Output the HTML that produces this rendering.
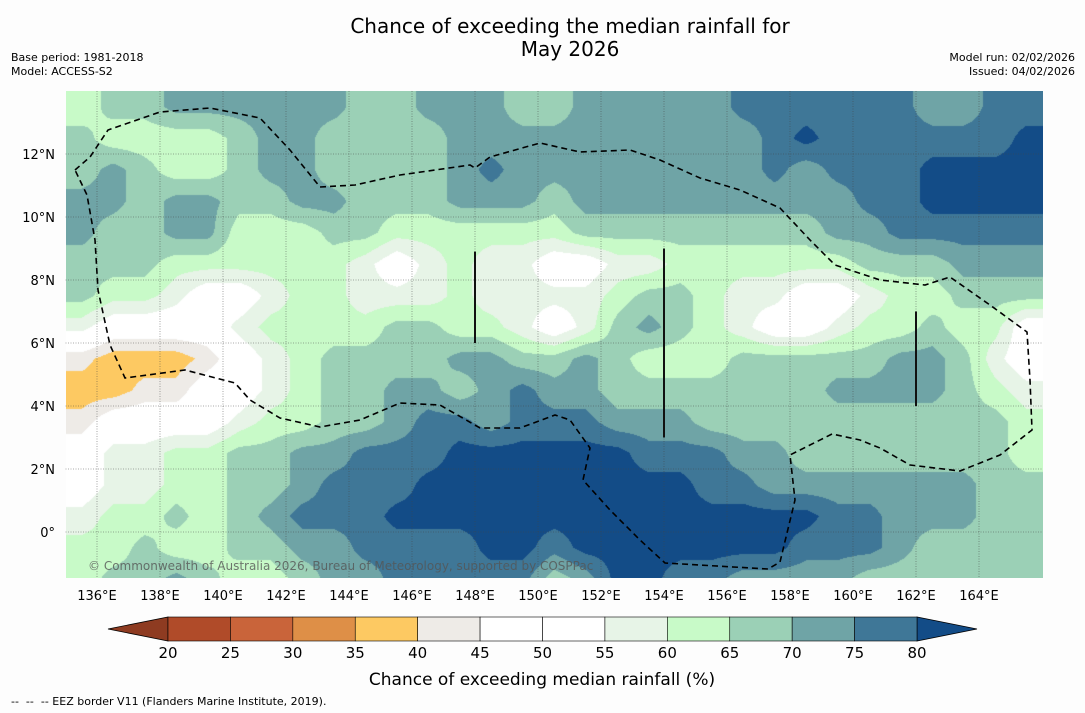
<!DOCTYPE html>
<html><head><meta charset="utf-8">
<style>
body{margin:0;background:#fdfdfd;font-family:"DejaVu Sans","Liberation Sans",sans-serif;}
#wrap{position:relative;width:1085px;height:713px;overflow:hidden;}
.t{position:absolute;white-space:nowrap;color:#000;}
</style></head>
<body>
<div id="wrap">
<div class="t" style="left:270px;width:600px;top:15px;text-align:center;font-size:20px;line-height:23px;">Chance of exceeding the median rainfall for<br>May 2026</div>
<div class="t" style="left:11px;top:51px;font-size:11px;line-height:14px;">Base period: 1981-2018<br>Model: ACCESS-S2</div>
<div class="t" style="right:10px;top:51px;font-size:11px;line-height:14px;text-align:right;">Model run: 02/02/2026<br>Issued: 04/02/2026</div>
<canvas id="cv" width="977" height="487" style="position:absolute;left:65.5px;top:91px"></canvas>
<svg id="svg" width="1085" height="713" style="position:absolute;left:0;top:0"></svg>
<div class="t" style="left:11px;top:695px;font-size:11px;">--&nbsp; --&nbsp; -- EEZ border V11 (Flanders Marine Institute, 2019).</div>
</div>
<script>
const lons=[135,136,137,138,139,140,141,142,143,144,145,146,147,148,149,150,151,152,153,154,155,156,157,158,159,160,161,162,163,164,165];
const lats=[14,13,12,11,10,9,8,7,6,5,4,3,2,1,0,-1];
// chance values (%) per 1-degree cell, rows from north to south
const r0=[62,67,67,72,72,72,72,72,72,67,67,72,72,72,67,67,72,72,72,72,72,77,77,77,77,77,77,72,72,77,77];
const r1=[67,62,62,62,62,67,72,72,67,67,67,67,72,72,72,72,72,72,72,72,72,72,77,82,77,77,77,77,77,77,82];
const r2=[67,72,67,62,62,67,72,72,67,67,67,67,72,77,72,72,72,72,72,72,72,72,77,72,77,77,77,82,82,82,82];
const r3=[72,72,67,72,72,67,67,72,72,67,67,67,72,72,72,67,72,72,72,72,72,72,72,72,72,77,77,82,82,82,82];
const r4=[72,67,67,72,72,62,62,62,67,67,62,62,62,62,62,62,67,67,67,67,67,67,67,67,72,72,77,77,77,77,77];
const r5=[67,67,67,62,62,62,62,62,62,57,50,57,62,57,57,50,50,57,57,62,62,62,62,62,62,67,67,67,72,72,72];
const r6=[67,62,62,57,50,50,57,62,62,57,57,57,62,57,57,57,57,62,67,67,62,57,57,50,50,57,62,62,67,67,67];
const r7=[57,50,50,50,50,57,62,62,62,62,67,67,62,62,57,50,57,67,72,67,62,57,50,50,57,62,62,67,62,62,50];
const r8=[42,37,37,37,42,50,57,62,67,67,67,67,72,72,67,67,72,67,62,62,62,67,67,67,67,67,72,72,67,57,50];
const r9=[37,37,42,42,50,50,57,62,67,67,72,72,67,72,77,72,72,67,67,67,67,67,67,67,72,72,72,72,67,62,57];
const r10=[42,50,50,50,50,57,62,62,67,67,72,77,77,72,77,77,77,72,72,72,67,67,67,67,67,67,67,67,67,67,62];
const r11=[50,57,57,62,62,67,67,72,72,77,77,77,82,82,82,82,82,82,77,77,77,72,72,67,67,67,67,67,67,67,62];
const r12=[50,57,57,62,62,67,67,72,77,77,77,82,82,82,82,82,82,82,82,82,77,77,72,72,72,72,72,72,72,67,67];
const r13=[57,62,62,67,62,67,72,77,77,77,82,82,82,82,82,82,82,82,82,82,82,82,82,82,77,77,72,72,72,67,67];
const r14=[62,62,67,62,62,67,67,72,72,77,77,77,77,82,82,77,82,82,82,82,82,82,82,77,77,77,72,67,67,67,67];
const r15=[62,67,67,72,67,62,62,67,72,72,77,77,77,77,77,67,72,82,82,77,77,72,72,72,72,67,67,67,67,67,67];
const grid=[r0,r1,r2,r3,r4,r5,r6,r7,r8,r9,r10,r11,r12,r13,r14,r15];
const levels=[20,25,30,35,40,45,50,55,60,65,70,75,80];
const levelColors=['#b04b29','#c9643a','#de8f47','#fdc962','#eeebe7','#ffffff','#ffffff','#e7f4e7','#c8fac8','#9bd0b6','#6fa4a6','#3f7797','#134c87'];
const lowColor='#8e3b21', highColor='#134c87';
const xTicks=[136,138,140,142,144,146,148,150,152,154,156,158,160,162,164];
const yTicks=[12,10,8,6,4,2,0];
const cbTicks=[20,25,30,35,40,45,50,55,60,65,70,75,80];

const X0=65.5,Y0=91,PX=31.5,W=977,H=487;
const xs=lon=>X0+(lon-135)*PX;
const ys=lat=>Y0+(14-lat)*PX;
function bandColor(v){
  if(v<20) return lowColor;
  const i=Math.floor((v-20)/5); return i>=12?highColor:levelColors[i];
}
function hexRGB(h){return [parseInt(h.substr(1,2),16),parseInt(h.substr(3,2),16),parseInt(h.substr(5,2),16)];}
const cv=document.getElementById('cv');const ctx=cv.getContext('2d');
const nR=grid.length,nC=grid[0].length;
function val(lon,lat){
  let fc=(lon-lons[0])-0.5, fr=(lats[0]-lat)-0.5;
  fc=Math.max(0,Math.min(nC-1,fc)); fr=Math.max(0,Math.min(nR-1,fr));
  const c0=Math.floor(fc),rr0=Math.floor(fr),c1=Math.min(nC-1,c0+1),rr1=Math.min(nR-1,rr0+1);
  const tx=fc-c0,ty=fr-rr0;
  const a=grid[rr0][c0]*(1-tx)+grid[rr0][c1]*tx;
  const b=grid[rr1][c0]*(1-tx)+grid[rr1][c1]*tx;
  return a*(1-ty)+b*ty;
}
const img=ctx.createImageData(W,H);
for(let py=0;py<H;py++){
  for(let px=0;px<W;px++){
    const lon=135+(px+0.5)/PX, lat=14-(py+0.5)/PX;
    const c=hexRGB(bandColor(val(lon,lat)));
    const k=(py*W+px)*4;
    img.data[k]=c[0];img.data[k+1]=c[1];img.data[k+2]=c[2];img.data[k+3]=255;
  }
}
ctx.putImageData(img,0,0);
const NS='http://www.w3.org/2000/svg';
const svg=document.getElementById('svg');
function mk(tag,attrs,parent){const e=document.createElementNS(NS,tag);for(const k in attrs)e.setAttribute(k,attrs[k]);(parent||svg).appendChild(e);return e;}
const FF='DejaVu Sans, Liberation Sans, sans-serif';
const defs=mk('defs',{});
const cp=mk('clipPath',{id:'mapclip'},defs);
mk('rect',{x:X0,y:Y0,width:W,height:H},cp);
const mapG=mk('g',{'clip-path':'url(#mapclip)'});


xTicks.forEach(l=>{const g=mk('line',{x1:xs(l),x2:xs(l),y1:Y0,y2:Y0+H,stroke:'#444','stroke-width':0.8,'stroke-dasharray':'1,1.5',opacity:0.6},mapG);
  });
yTicks.forEach(l=>{const g=mk('line',{x1:X0,x2:X0+W,y1:ys(l),y2:ys(l),stroke:'#444','stroke-width':0.8,'stroke-dasharray':'1,1.5',opacity:0.6},mapG);
  });
[[148,8.9,6],[154,9,3],[162,7,4]].forEach(s=>{const l=mk('line',{x1:xs(s[0]),x2:xs(s[0]),y1:ys(s[1]),y2:ys(s[2]),stroke:'#111','stroke-width':2},mapG);
  });
const eez=[[75,170],[90,157],[108,130],[160,112],[210,108],[260,118],[290,150],[320,187],[355,185],[400,175],[470,165],[475,168],[490,157],[540,143],[580,152],[630,150],[660,160],[700,178],[740,190],[780,208],[810,240],[835,265],[880,280],[925,285],[950,277],[990,305],[1027,332],[1030,380],[1032,430],[1000,455],[960,471],[910,465],[880,448],[860,440],[832,434],[790,455],[795,500],[780,562],[768,569],[665,563],[640,540],[610,510],[583,480],[590,448],[570,420],[555,415],[520,428],[480,428],[440,405],[400,403],[360,420],[320,427],[280,418],[250,400],[235,383],[185,370],[125,378],[110,345],[98,290],[95,240],[87,195],[75,170]];
const ep=mk('path',{d:'M'+eez.map(p=>p.join(',')).join(' L'),fill:'none',stroke:'#000','stroke-width':1.6,'stroke-dasharray':'6,4'},mapG);

const ct=mk('text',{x:88,y:570,'font-size':12,fill:'#555','fill-opacity':0.8,'font-family':FF},mapG);
ct.textContent='© Commonwealth of Australia 2026, Bureau of Meteorology, supported by COSPPac';

xTicks.forEach(l=>{const t=mk('text',{x:xs(l),y:600,'font-size':13,'text-anchor':'middle','font-family':FF});t.textContent=l+'°E';
  });
yTicks.forEach(l=>{const t=mk('text',{x:55,y:ys(l)+5,'font-size':13,'text-anchor':'end','font-family':FF});t.textContent=l===0?'0°':l+'°N';
  });
const CB0=168,CB1=917,CBY=617,CBH=24;
const cbx=v=>CB0+(v-20)*(CB1-CB0)/60;
const cbG=mk('g',{});

const lt=mk('polygon',{points:`${CB0},${CBY} ${CB0},${CBY+CBH} 108,${CBY+CBH/2}`,fill:lowColor,stroke:'#000','stroke-width':0.8},cbG);

const rt=mk('polygon',{points:`${CB1},${CBY} ${CB1},${CBY+CBH} 977,${CBY+CBH/2}`,fill:highColor,stroke:'#000','stroke-width':0.8},cbG);

for(let i=0;i<cbTicks.length-1;i++){
  const r=mk('rect',{x:cbx(cbTicks[i]),y:CBY,width:cbx(cbTicks[i+1])-cbx(cbTicks[i]),height:CBH,fill:levelColors[i],stroke:'#000','stroke-width':0.6},cbG);
  
}
cbTicks.forEach(v=>{const t=mk('text',{x:cbx(v),y:658,'font-size':15,'text-anchor':'middle','font-family':FF},cbG);t.textContent=v;
  });
const cl=mk('text',{x:542,y:685,'font-size':17,'text-anchor':'middle','font-family':FF});
cl.textContent='Chance of exceeding median rainfall (%)';

</script>
</body></html>
